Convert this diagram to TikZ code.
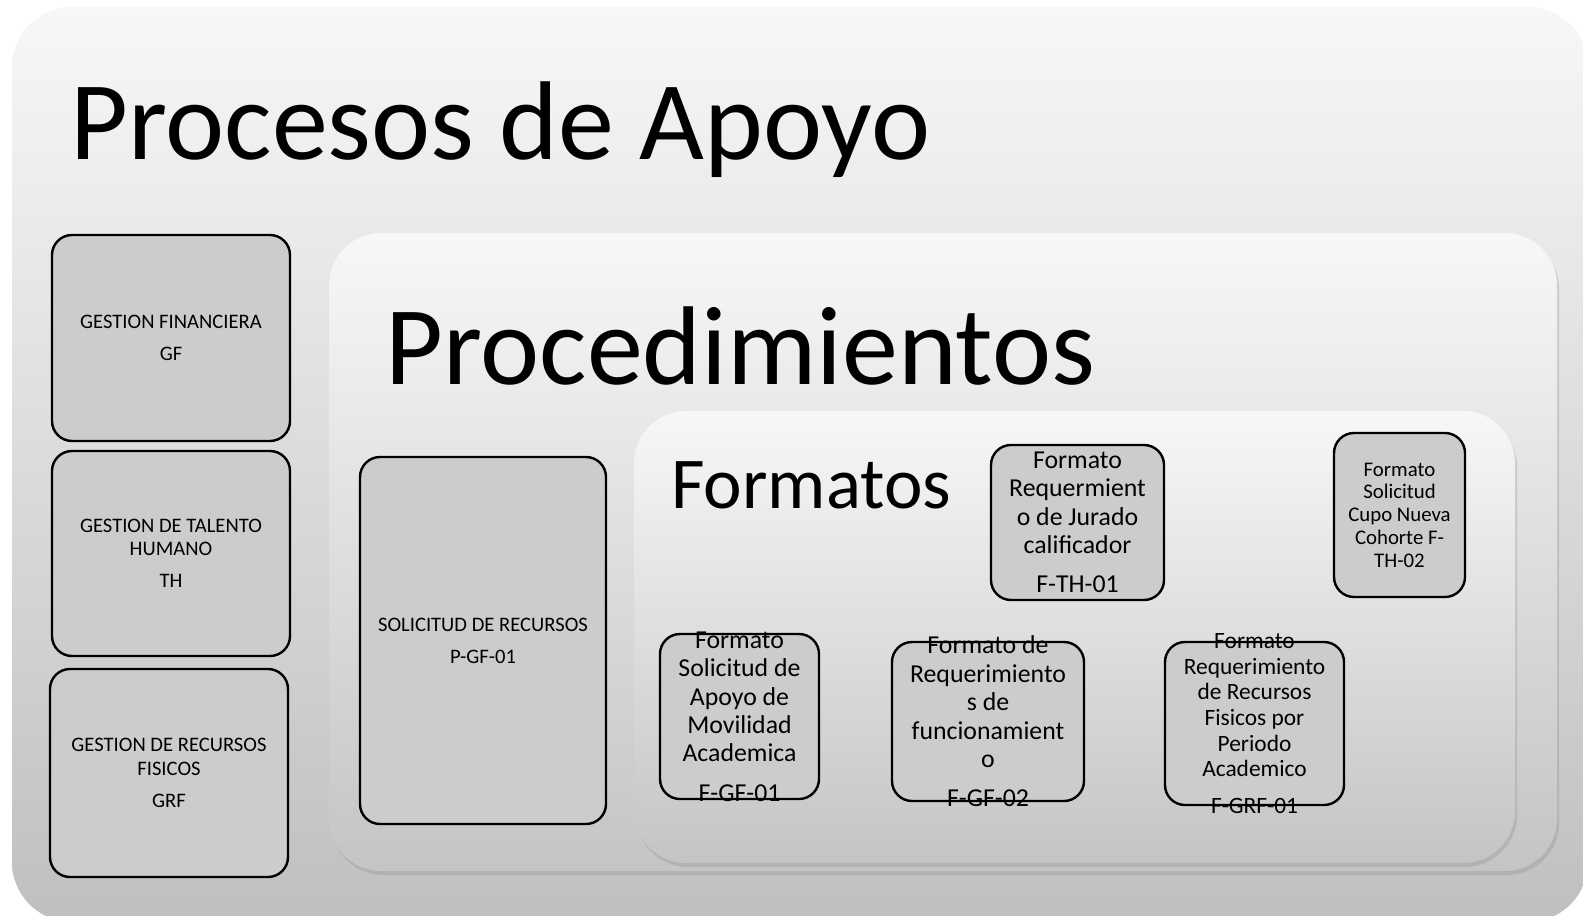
\documentclass[tikz,border=0pt]{standalone}
\usepackage{fontspec}
\setmainfont{Carlito}
\usetikzlibrary{shadows}

\tikzset{
  outerpanel/.style={rounded corners=30pt, inner sep=0pt,
    top color=black!3, middle color=black!8, bottom color=black!25},
  procpanel/.style={rounded corners=26pt, inner sep=0pt,
    top color=black!3, middle color=black!8, bottom color=black!23,
    drop shadow={shadow xshift=1pt, shadow yshift=-2pt, opacity=0.25}},
  bigtitle/.style={anchor=base west, inner sep=0pt, font=\fontsize{56}{66}\selectfont},
  midtitle/.style={anchor=base west, inner sep=0pt, font=\fontsize{36.5}{44}\selectfont},
  grbox/.style={draw=black, line width=1.2pt, fill=black!20, rounded corners=10pt,
    align=center, font=\fontsize{10.3}{11.6}\selectfont},
  fmtbox/.style={draw=black, line width=1.2pt, fill=black!20, rounded corners=10pt},
  fmttext/.style={align=center, inner sep=0pt, font=\fontsize{12.9}{14.2}\selectfont},
  fmtsmall/.style={align=center, inner sep=0pt, font=\fontsize{10.4}{11.4}\selectfont},
  fmtmid/.style={align=center, inner sep=0pt, font=\fontsize{11.7}{12.8}\selectfont}
}

\begin{document}
\begin{tikzpicture}[x=0.5pt,y=-0.5pt]
  \useasboundingbox (0,0) rectangle (1583,915);

  % procesos de apoyo
  \node[outerpanel, minimum width=788pt, minimum height=457.5pt] (apoyo) at (800,464.5) {};
  \node[bigtitle] (apoyot) at (70,159) {Procesos de Apoyo};

  \node[grbox, minimum width=119pt, minimum height=103pt] (gf)  at (171,338)   {GESTION FINANCIERA\\[4.5pt]GF};
  \node[grbox, minimum width=119pt, minimum height=102.5pt] (th)  at (171,553.5) {GESTION DE TALENTO\\HUMANO\\[4.5pt]TH};
  \node[grbox, minimum width=119pt, minimum height=104pt] (grf) at (169,773)   {GESTION DE RECURSOS\\FISICOS\\[4.5pt]GRF};

  % procedimientos
  \node[procpanel, minimum width=614pt, minimum height=319pt] (proc) at (943,552) {};
  \node[bigtitle] (proct) at (385,384) {Procedimientos};
  \node[grbox, minimum width=123pt, minimum height=183.5pt] (pgf01) at (483,640.5) {SOLICITUD DE RECURSOS\\[4.5pt]P-GF-01};

  % formatos
  \node[procpanel, minimum width=440.5pt, minimum height=226pt] (fmt) at (1074.5,637) {};
  \node[midtitle] (fmtt) at (671,508) {Formatos};

  \node[fmtbox, minimum width=86.5pt, minimum height=77.5pt] (fth01) at (1077.5,522.5) {};
  \node[fmttext] (fth01t) at (fth01.center) {Formato\\Requermient\\o de Jurado\\calificador\\[5.5pt]F-TH-01};

  \node[fmtbox, minimum width=65.5pt, minimum height=82pt] (fth02) at (1399.5,515) {};
  \node[fmtsmall] (fth02t) at (fth02.center) {Formato\\Solicitud\\Cupo Nueva\\Cohorte F-\\TH-02};

  \node[fmtbox, minimum width=79.5pt, minimum height=82.5pt] (fgf01) at (739.5,716.5) {};
  \node[fmttext] (fgf01t) at (fgf01.center) {Formato\\Solicitud de\\Apoyo de\\Movilidad\\Academica\\[5.5pt]F-GF-01};

  \node[fmtbox, minimum width=96pt, minimum height=79.5pt] (fgf02) at (988,721.5) {};
  \node[fmttext] (fgf02t) at (fgf02.center) {Formato de\\Requerimiento\\s de\\funcionamient\\o\\[5.5pt]F-GF-02};

  \node[fmtbox, minimum width=89.5pt, minimum height=81.5pt] (fgrf01) at (1254.5,723.5) {};
  \node[fmtmid] (fgrf01t) at (fgrf01.center) {Formato\\Requerimiento\\de Recursos\\Fisicos por\\Periodo\\Academico\\[5.5pt]F-GRF-01};
\end{tikzpicture}
\end{document}
